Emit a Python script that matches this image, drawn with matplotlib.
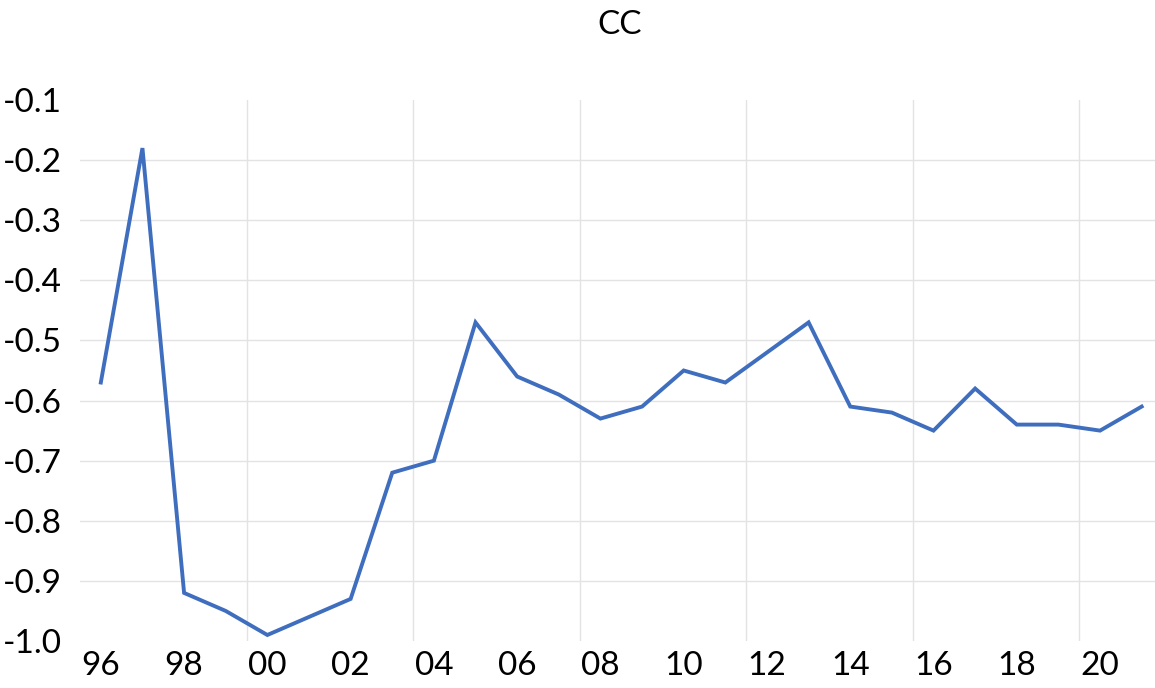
import matplotlib

matplotlib.use("Agg")
import matplotlib.pyplot as plt
import numpy as np

years = list(range(1996, 2022))
cc_values = [-0.57, -0.18, -0.92, -0.95, -0.99, -0.96, -0.93, -0.72, -0.70, -0.47,
             -0.56, -0.59, -0.63, -0.61, -0.55, -0.57, -0.52, -0.47, -0.61, -0.62,
             -0.65, -0.58, -0.64, -0.64, -0.65, -0.61]
tick_labels = [f"{y % 100:02d}" for y in years]
y_ticks = [-0.1, -0.2, -0.3, -0.4, -0.5, -0.6, -0.7, -0.8, -0.9, -1.0]

plt.rcParams["font.family"] = ["Lato", "DejaVu Sans"]

fig = plt.figure(figsize=(11.55, 6.88), dpi=100)
ax = fig.add_axes([80 / 1155, 1 - 641 / 688, 1075 / 1155, 541 / 688])

x = np.arange(len(years))
ax.plot(x, cc_values, color="#3F6EBF", linewidth=2.8, solid_joinstyle="miter", zorder=3)

ax.set_xlim(-0.5, 25.32)
ax.set_ylim(-1.0, -0.1)

# category-boundary gridlines every four years, like Excel
for gx in np.arange(3.5, len(years), 4):
    ax.axvline(gx, color="#E3E3E3", linewidth=1.0, zorder=1)
for gy in y_ticks[1:-1]:
    ax.axhline(gy, color="#E3E3E3", linewidth=1.0, zorder=1)

ax.set_xticks(x[::2])
ax.set_xticklabels(tick_labels[::2])
ax.set_yticks(y_ticks)
ax.set_yticklabels([f"{v:.1f}" for v in y_ticks])
ax.tick_params(axis="both", length=0, labelsize=24, colors="black")
ax.tick_params(axis="x", pad=7)
ax.tick_params(axis="y", pad=13)

for spine in ax.spines.values():
    spine.set_visible(False)

fig.text(620 / 1155, 1 - 25 / 688, "CC", ha="center", va="center", fontsize=24)

fig.savefig("out.png", dpi=100)
